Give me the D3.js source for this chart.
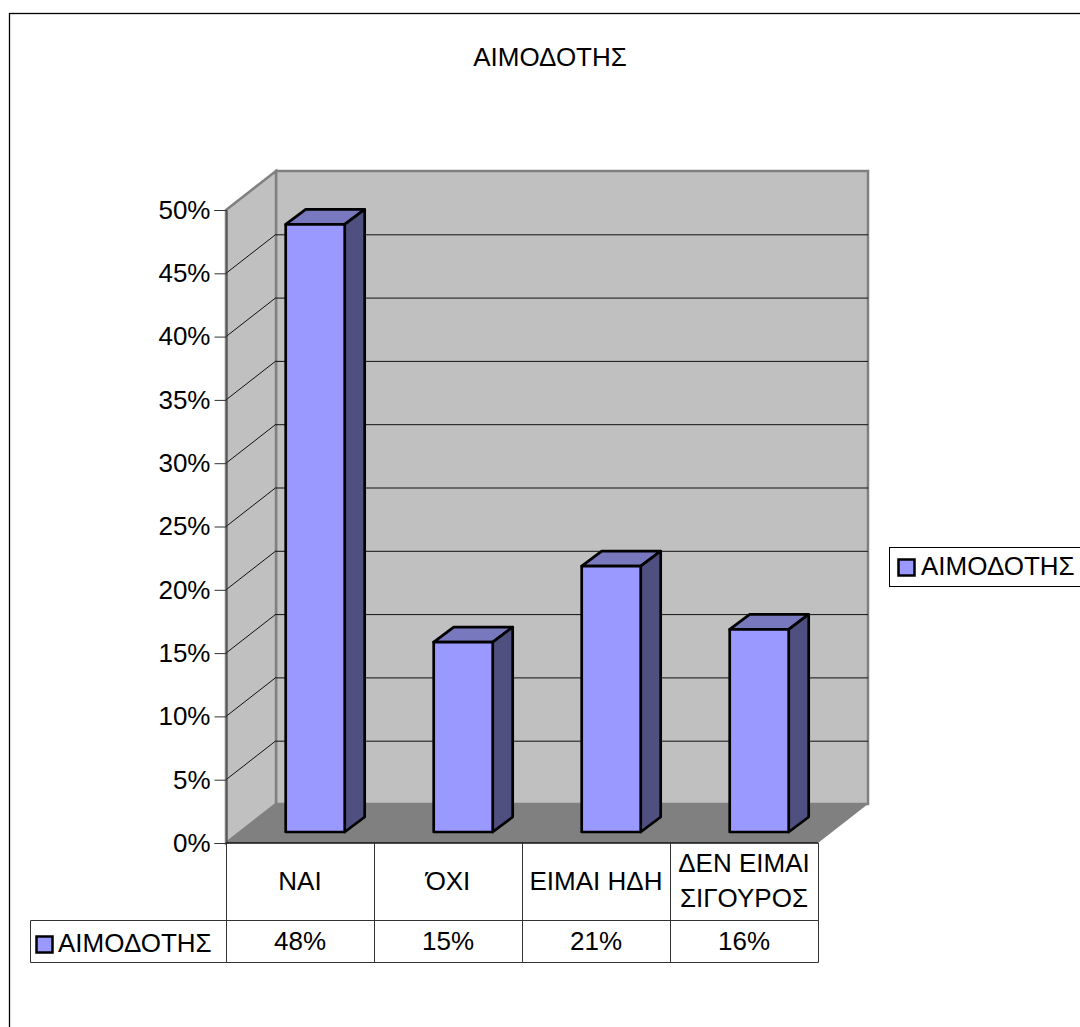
<!DOCTYPE html>
<html lang="el">
<head>
<meta charset="UTF-8">
<title>ΑΙΜΟΔΟΤΗΣ</title>
<script src="https://d3js.org/d3.v7.min.js"></script>
<style>
  html, body { margin: 0; padding: 0; background: #fff; overflow: hidden; }
  svg { display: block; }
  text { font-family: "Liberation Sans", Arial, sans-serif; fill: #000; }
</style>
</head>
<body>
<div id="chart"></div>
<script>
const seriesName = "ΑΙΜΟΔΟΤΗΣ";
const categories = ["ΝΑΙ", "ΌΧΙ", "ΕΙΜΑΙ ΗΔΗ", "ΔΕΝ ΕΙΜΑΙ ΣΙΓΟΥΡΟΣ"];
const categoryLines = [["ΝΑΙ"], ["ΌΧΙ"], ["ΕΙΜΑΙ ΗΔΗ"], ["ΔΕΝ ΕΙΜΑΙ", "ΣΙΓΟΥΡΟΣ"]];
const values = [48, 15, 21, 16];
const yTicks = [0, 5, 10, 15, 20, 25, 30, 35, 40, 45, 50];

const W = 1080, H = 1027;
const plotLeft = 226, plotRight = 818, plotBottom = 843, plotTop = 210;
// depth of the 3d box and of the bars
const dx = 50, dy = 39;
const barDx = 20, barDy = 15, barLift = 11;
const fontSize = 26;

const svg = d3.select("#chart").append("svg").attr("width", W).attr("height", H);

// outer frame runs off the right and bottom of the picture
svg.append("rect").attr("x", 9.5).attr("y", 13.5).attr("width", W).attr("height", H)
  .attr("fill", "#fff").attr("stroke", "#000").attr("stroke-width", 1.3);

const x = d3.scaleBand().domain(categories).range([plotLeft, plotRight]);
const y = d3.scaleLinear().domain([0, 50]).range([plotBottom, plotTop]);
const poly = pts => pts.map(p => p.join(",")).join(" ");

svg.append("text").attr("x", 550).attr("y", 66).attr("text-anchor", "middle")
  .attr("font-size", fontSize).text(seriesName);

// walls
svg.append("polygon")
  .attr("points", poly([[plotLeft + dx, y(50) - dy], [plotRight + dx, y(50) - dy], [plotRight + dx, y(0) - dy], [plotLeft + dx, y(0) - dy]]))
  .attr("fill", "#c0c0c0").attr("stroke", "#808080").attr("stroke-width", 2.5);
svg.append("polygon")
  .attr("points", poly([[plotLeft, y(50)], [plotLeft + dx, y(50) - dy], [plotLeft + dx, y(0) - dy], [plotLeft, y(0)]]))
  .attr("fill", "#c0c0c0").attr("stroke", "#808080").attr("stroke-width", 2.5);
svg.append("polygon")
  .attr("points", poly([[plotLeft, y(0)], [plotRight, y(0)], [plotRight + dx, y(0) - dy], [plotLeft + dx, y(0) - dy]]))
  .attr("fill", "#808080");

// gridlines, back wall and side wall
const grid = yTicks.filter(t => t > 0 && t < 50);
svg.append("g").selectAll("line").data(grid).join("line")
  .attr("x1", plotLeft + dx).attr("x2", plotRight + dx)
  .attr("y1", d => y(d) - dy + 0.5).attr("y2", d => y(d) - dy + 0.5)
  .attr("stroke", "#111").attr("stroke-width", 1);
svg.append("g").selectAll("line").data(grid).join("line")
  .attr("x1", plotLeft).attr("x2", plotLeft + dx)
  .attr("y1", d => y(d)).attr("y2", d => y(d) - dy)
  .attr("stroke", "#111").attr("stroke-width", 1);

// left axis
const yAxis = svg.append("g").attr("transform", `translate(${plotLeft + 0.5},0)`)
  .call(d3.axisLeft(y).tickValues(yTicks).tickSize(12).tickPadding(4).tickFormat(d => d + "%"));
yAxis.selectAll("path,line").attr("stroke", "#333").attr("stroke-width", 1);
yAxis.selectAll("text").attr("font-size", fontSize).attr("font-family", '"Liberation Sans", Arial, sans-serif').attr("fill", "#000");

// floor front edge
svg.append("line").attr("x1", plotLeft).attr("x2", plotRight).attr("y1", plotBottom).attr("y2", plotBottom)
  .attr("stroke", "#111").attr("stroke-width", 1.5);

// bars
const barW = 59;
const bars = svg.append("g").selectAll("g").data(categories).join("g")
  .attr("stroke", "#000").attr("stroke-width", 2.7).attr("stroke-linejoin", "round");
const bx = d => x(d) + (x.bandwidth() - barW) / 2 + 15.2;
const by = (d, i) => y(values[i]) - barLift;
bars.append("polygon").attr("fill", "#7878bf")
  .attr("points", (d, i) => poly([[bx(d), by(d, i)], [bx(d) + barW, by(d, i)], [bx(d) + barW + barDx, by(d, i) - barDy], [bx(d) + barDx, by(d, i) - barDy]]));
bars.append("polygon").attr("fill", "#4f4f80")
  .attr("points", (d, i) => poly([[bx(d) + barW, by(d, i)], [bx(d) + barW + barDx, by(d, i) - barDy], [bx(d) + barW + barDx, y(0) - barLift - barDy], [bx(d) + barW, y(0) - barLift]]));
bars.append("rect").attr("fill", "#9999ff")
  .attr("x", d => bx(d)).attr("y", (d, i) => by(d, i))
  .attr("width", barW).attr("height", (d, i) => y(0) - y(values[i]));

// data table under the plot
const rowMid = 920.5, rowEnd = 962.5, tableLeft = 30.5;
const tbl = svg.append("g").attr("stroke", "#333").attr("stroke-width", 1).attr("fill", "none");
tbl.selectAll("line").data(x.domain().map(d => x(d)).concat(plotRight)).join("line")
  .attr("x1", d => Math.round(d) + 0.5).attr("x2", d => Math.round(d) + 0.5)
  .attr("y1", plotBottom).attr("y2", rowEnd);
[rowMid, rowEnd].forEach(ry => tbl.append("line").attr("x1", tableLeft).attr("x2", plotRight + 0.5).attr("y1", ry).attr("y2", ry));
tbl.append("line").attr("x1", tableLeft).attr("x2", tableLeft).attr("y1", rowMid).attr("y2", rowEnd);

categories.forEach((c, i) => {
  const lines = categoryLines[i];
  const cx = x(c) + x.bandwidth() / 2;
  const y0 = 889.5 - (lines.length - 1) * 17.25;
  lines.forEach((t, j) => {
    svg.append("text").attr("x", cx).attr("y", y0 + j * 34.5).attr("text-anchor", "middle")
      .attr("font-size", fontSize).text(t);
  });
  svg.append("text").attr("x", cx).attr("y", 950).attr("text-anchor", "middle")
    .attr("font-size", fontSize).text(values[i] + "%");
});

// legend key in table
svg.append("rect").attr("x", 36.5).attr("y", 936.5).attr("width", 16).attr("height", 16)
  .attr("fill", "#9999ff").attr("stroke", "#000").attr("stroke-width", 2.5);
svg.append("text").attr("x", 58).attr("y", 952).attr("font-size", fontSize).text(seriesName);

// legend box, also running off the right edge
svg.append("rect").attr("x", 889.5).attr("y", 547.5).attr("width", 220).attr("height", 39)
  .attr("fill", "#fff").attr("stroke", "#000").attr("stroke-width", 1);
svg.append("rect").attr("x", 898.5).attr("y", 559.5).attr("width", 16).attr("height", 16)
  .attr("fill", "#9999ff").attr("stroke", "#000").attr("stroke-width", 2.5);
svg.append("text").attr("x", 921).attr("y", 575).attr("font-size", fontSize).text(seriesName);
</script>
</body>
</html>
